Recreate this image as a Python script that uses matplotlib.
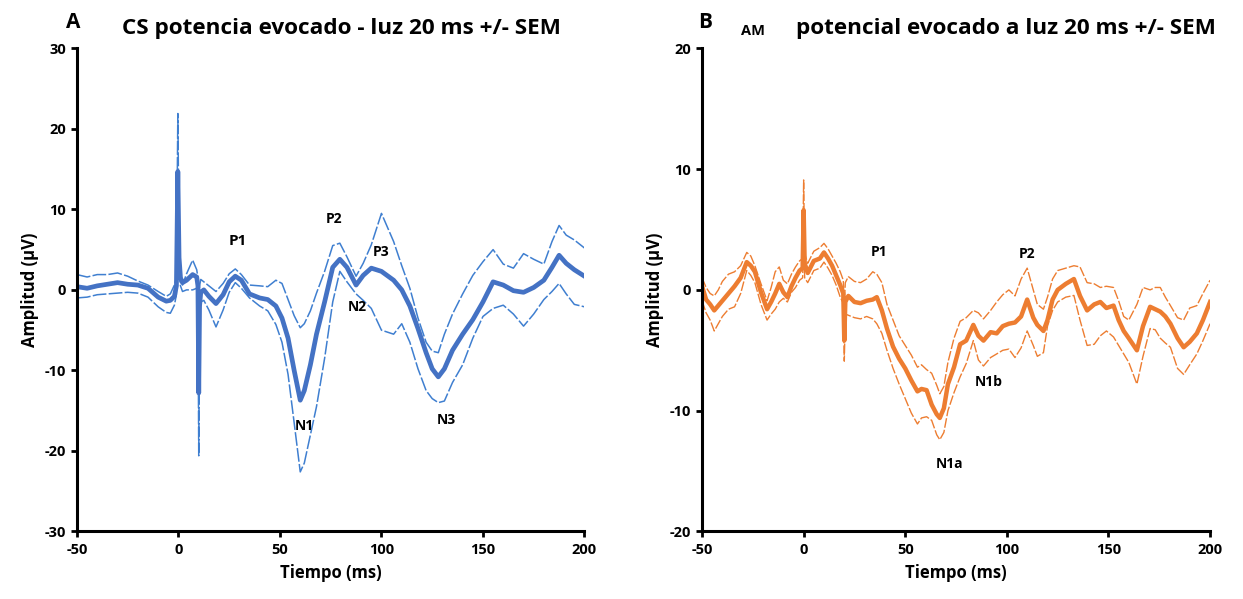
import numpy as np
import matplotlib.pyplot as plt

plt.rcParams['font.family'] = ['Open Sans', 'DejaVu Sans']
plt.rcParams['font.weight'] = 'bold'
plt.rcParams['axes.unicode_minus'] = False

# CS - potencial evocado (media y +/- SEM)
t_cs = [-50, -45, -40, -35, -30, -25, -20, -15, -10, -6, -4, -2, -1, -0.3, 0.3, 1, 2, 4, 7, 9,
        9.6, 10, 10.4, 11, 12.5, 15, 18.5, 22, 25, 28, 31, 35, 40, 44, 48, 51, 54, 57, 60, 62,
        65, 68, 72, 76, 79.5, 83, 87.5, 91, 95, 100, 106, 110, 114, 118, 122, 125, 128, 131, 135, 140,
        145, 150, 155, 160, 165, 170, 175, 180, 184, 187.5, 191, 195, 200]
cs_mean = [0.4, 0.2, 0.5, 0.7, 0.9, 0.7, 0.6, 0.2, -0.9, -1.4, -1.3, -0.8, 0.5, 14.7, 4.0, 1.5, 0.9, 1.2, 1.9, 1.6,
           0.5, -12.8, -2.0, -0.3, 0.0, -0.8, -1.7, -0.6, 1.0, 1.7, 1.2, -0.5, -1.0, -1.2, -2.0, -3.5, -6.0, -10.0, -13.7, -12.5,
           -9.3, -5.5, -1.5, 2.8, 3.8, 2.8, 0.6, 1.8, 2.7, 2.3, 1.2, 0.0, -2.0, -4.8, -7.8, -9.8, -10.8, -9.8, -7.5, -5.5,
           -3.7, -1.5, 1.0, 0.6, -0.1, -0.3, 0.3, 1.2, 2.8, 4.3, 3.3, 2.5, 1.7]
cs_hi = [1.9, 1.6, 1.9, 1.9, 2.1, 1.7, 1.1, 0.6, -0.2, -0.8, -0.5, 0.6, 1.5, 21.9, 6.0, 2.0, 0.6, 2.0, 3.7, 2.5,
         1.5, -5.0, 0.5, 1.3, 1.0, 0.5, -0.2, 0.8, 2.0, 2.6, 1.9, 0.6, 0.5, 0.4, 1.2, 0.8, -1.2, -3.2, -4.7, -4.2,
         -2.6, -0.4, 2.3, 5.5, 5.8, 4.1, 1.7, 3.3, 5.6, 9.5, 6.0, 3.0, 0.2, -3.5, -6.5, -7.6, -7.8, -5.5, -3.0, -0.5,
         1.8, 3.5, 5.0, 3.2, 2.7, 4.5, 3.8, 3.2, 6.0, 8.0, 6.8, 6.2, 5.2]
cs_lo = [-1.0, -0.9, -0.6, -0.5, -0.4, -0.3, -0.4, -0.9, -2.1, -2.8, -2.9, -1.9, -0.6, 7.5, 2.0, 0.5, -0.2, 0.0, 0.0, 0.2,
         -0.5, -20.6, -4.0, -1.5, -1.3, -2.5, -4.6, -2.5, -0.3, 0.9, 0.2, -1.0, -2.0, -2.6, -4.3, -6.5, -10.5, -16.5, -22.6, -21.5,
         -18.0, -14.5, -8.5, -1.5, 2.3, 1.0, -0.5, -1.3, -2.3, -5.0, -5.5, -4.2, -6.5, -9.8, -12.5, -13.5, -14.0, -13.8, -11.5, -9.3,
         -6.0, -3.3, -2.3, -1.9, -3.0, -4.5, -3.0, -1.2, -0.2, 0.8, -0.5, -1.8, -2.1]

# AM - potencial evocado (media y +/- SEM)
t_am = [-50, -48, -46, -44, -42, -40, -37, -34, -31, -28, -26, -24, -21, -18, -16, -14, -12, -10, -8, -6,
        -4, -2, -0.5, 0, 0.5, 2, 5, 8, 10, 12, 14, 16, 18, 19.5, 20, 20.5, 22, 25, 28, 31,
        34, 36, 38.5, 41, 44, 47, 50, 53, 56, 58, 60.5, 63, 65.5, 67, 69, 71, 74, 77, 80, 83.5,
        86, 88.5, 92, 95, 98, 101, 104, 107, 110, 113, 115, 118, 120, 122.5, 125, 129, 133, 136, 139.5, 143,
        146, 149, 152.5, 155, 157.5, 160, 164, 167, 170.5, 173, 175.5, 178, 180.5, 184, 187, 190, 193.5, 196.5, 200]
am_mean = [0.3, -0.8, -1.2, -1.7, -1.3, -0.9, -0.3, 0.3, 1.0, 2.3, 2.0, 1.5, -0.2, -1.6, -1.0, -0.3, 0.5, -0.2, -0.6, 0.3,
           1.0, 1.6, 1.8, 6.6, 2.2, 1.4, 2.4, 2.6, 3.1, 2.6, 2.0, 1.2, 0.4, -0.3, -4.2, -1.0, -0.5, -1.0, -1.1, -0.9,
           -0.8, -0.6, -1.7, -3.2, -4.7, -5.7, -6.5, -7.5, -8.4, -8.2, -8.3, -9.5, -10.3, -10.6, -9.8, -7.8, -6.4, -4.5, -4.2, -2.9,
           -3.8, -4.2, -3.5, -3.6, -3.0, -2.8, -2.7, -2.2, -0.8, -2.3, -2.9, -3.4, -2.5, -0.8, 0.0, 0.5, 0.9, -0.5, -1.7, -1.2,
           -1.0, -1.5, -1.3, -2.5, -3.4, -4.0, -5.0, -3.0, -1.4, -1.6, -1.8, -2.2, -2.8, -4.0, -4.75, -4.3, -3.6, -2.5, -1.0]
am_hi = [1.0, 0.2, -0.3, -0.5, 0.0, 0.7, 1.3, 1.5, 2.0, 3.1, 2.8, 2.0, 0.5, -0.9, 0.2, 1.5, 1.9, 0.8, 0.5, 1.3,
         1.9, 2.4, 2.6, 9.1, 3.0, 2.2, 3.2, 3.5, 3.85, 3.4, 2.8, 2.2, 1.5, 0.8, -1.5, 0.6, 1.1, 0.7, 0.6, 0.9,
         1.5, 1.3, 0.6, -1.2, -2.5, -3.8, -4.6, -5.4, -6.4, -6.2, -6.6, -6.9, -7.9, -8.6, -8.0, -6.0, -4.0, -2.6, -2.3, -1.7,
         -1.9, -2.4, -1.7, -1.0, -0.4, 0.0, -0.5, 0.9, 1.8, 0.0, -1.2, -1.6, -0.6, 0.9, 1.6, 1.8, 2.0, 1.9, 0.6, 0.5,
         0.2, 0.3, 0.2, -0.9, -2.2, -2.5, -1.2, 0.2, 0.0, 0.2, 0.2, -0.6, -1.3, -2.3, -2.5, -1.5, -1.3, -0.3, 0.8]
am_lo = [-0.9, -1.9, -2.5, -3.4, -2.8, -2.2, -1.6, -1.4, -0.3, 1.6, 1.2, 0.6, -1.2, -2.5, -2.0, -1.6, -1.0, -0.7, -1.0, -0.2,
         0.2, 0.8, 1.0, 4.5, 1.0, 0.6, 1.6, 1.8, 2.3, 1.8, 1.2, 0.4, -0.6, -1.1, -5.9, -2.0, -2.1, -2.3, -2.4, -2.2,
         -2.4, -2.8, -3.6, -5.0, -6.5, -7.8, -9.0, -10.2, -11.1, -10.6, -10.5, -10.8, -12.0, -12.4, -11.8, -10.0, -8.5, -7.2, -6.1, -4.2,
         -5.8, -6.3, -5.6, -5.3, -5.0, -4.9, -5.6, -4.8, -3.4, -4.6, -5.5, -5.2, -3.0, -1.7, -1.0, -0.6, -0.46, -2.5, -4.6, -4.5,
         -3.8, -3.4, -3.9, -4.6, -5.3, -6.0, -7.8, -5.5, -3.2, -3.3, -4.0, -4.4, -4.75, -6.5, -7.0, -6.2, -5.3, -4.2, -2.8]

# etiquetas de los componentes
cs_peaks = ['P1', 'P2', 'P3', 'N2', 'N1', 'N3']
cs_peak_t = [29, 76.5, 100, 88, 62, 132]
cs_peak_v = [6.1, 8.8, 4.7, -2.1, -16.9, -16.1]
am_peaks = ['P1', 'P2', 'N1b', 'N1a']
am_peak_t = [37, 110, 91, 72]
am_peak_v = [3.1, 2.95, -7.6, -14.4]

blue = '#4472C4'
blue_sem = '#3f7fd0'
orange = '#ED7D31'

fig = plt.figure(figsize=(12.43, 5.99), dpi=100)
ax1 = fig.add_axes([0.0619, 0.1127, 0.4083, 0.8067])
ax2 = fig.add_axes([0.5648, 0.1127, 0.4087, 0.8067])


def style_axis(ax, ylim, yticks):
    ax.set_xlim(-50, 200)
    ax.set_ylim(*ylim)
    ax.set_xticks([-50, 0, 50, 100, 150, 200])
    ax.set_yticks(yticks)
    for s in ['top', 'right']:
        ax.spines[s].set_visible(False)
    for s in ['left', 'bottom']:
        ax.spines[s].set_linewidth(2.2)
    ax.tick_params(direction='out', length=4, width=2, labelsize=10.5, pad=4)
    for lab in ax.get_xticklabels() + ax.get_yticklabels():
        lab.set_fontweight('bold')
    ax.set_xlabel('Tiempo (ms)', fontsize=12, fontweight='bold', labelpad=5)
    ax.set_ylabel('Amplitud (\u00b5V)', fontsize=12, fontweight='bold', labelpad=4)


# panel A
ax1.plot(t_cs, cs_hi, color=blue_sem, lw=1.1, ls=(0, (9, 1.5)))
ax1.plot(t_cs, cs_lo, color=blue_sem, lw=1.1, ls=(0, (9, 1.5)))
ax1.plot(t_cs, cs_mean, color=blue, lw=3.4)
style_axis(ax1, (-30, 30), [-30, -20, -10, 0, 10, 20, 30])
for name, t, v in zip(cs_peaks, cs_peak_t, cs_peak_v):
    ax1.text(t, v, name, ha='center', va='center', fontsize=11 if name == 'P1' else 10,
             fontweight='bold')
fig.text(0.0587, 0.963, 'A', fontsize=15, fontweight='bold', ha='center', va='center')
fig.text(0.2745, 0.953, 'CS potencia evocado - luz 20 ms +/- SEM', fontsize=16.2,
         fontweight='bold', ha='center', va='center')

# panel B
ax2.plot(t_am, am_hi, color=orange, lw=1.0, ls=(0, (7, 1.5)))
ax2.plot(t_am, am_lo, color=orange, lw=1.0, ls=(0, (7, 1.5)))
ax2.plot(t_am, am_mean, color=orange, lw=3.2)
style_axis(ax2, (-20, 20), [-20, -10, 0, 10, 20])
for name, t, v in zip(am_peaks, am_peak_t, am_peak_v):
    ax2.text(t, v, name, ha='center', va='center', fontsize=10, fontweight='bold')
fig.text(0.567, 0.963, 'B', fontsize=15, fontweight='bold', ha='center', va='center')
fig.text(0.606, 0.948, 'AM', fontsize=10.5, fontweight='bold', ha='center', va='center')
fig.text(0.8095, 0.953, 'potencial evocado a luz 20 ms +/- SEM', fontsize=16.2,
         fontweight='bold', ha='center', va='center')

fig.savefig('out.png', dpi=100)
